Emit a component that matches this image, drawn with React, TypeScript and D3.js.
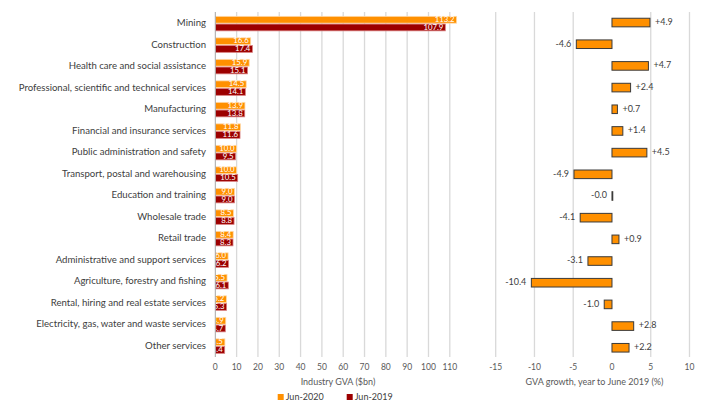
import React from "react";
import * as d3 from "d3";

const categories = [
  "Mining",
  "Construction",
  "Health care and social assistance",
  "Professional, scientific and technical services",
  "Manufacturing",
  "Financial and insurance services",
  "Public administration and safety",
  "Transport, postal and warehousing",
  "Education and training",
  "Wholesale trade",
  "Retail trade",
  "Administrative and support services",
  "Agriculture, forestry and fishing",
  "Rental, hiring and real estate services",
  "Electricity, gas, water and waste services",
  "Other services",
];
const gva2020 = [113.2, 16.6, 15.9, 14.5, 13.9, 11.8, 10.0, 10.0, 9.0, 8.5, 8.4, 6.0, 5.5, 5.2, 4.9, 4.5];
const gva2019 = [107.9, 17.4, 15.1, 14.1, 13.8, 11.6, 9.5, 10.5, 9.0, 8.8, 8.3, 6.2, 6.1, 5.3, 4.7, 4.4];
const growth = [4.9, -4.6, 4.7, 2.4, 0.7, 1.4, 4.5, -4.9, -0.0, -4.1, 0.9, -3.1, -10.4, -1.0, 2.8, 2.2];
const growthLabels = ["+4.9", "-4.6", "+4.7", "+2.4", "+0.7", "+1.4", "+4.5", "-4.9", "-0.0", "-4.1", "+0.9", "-3.1", "-10.4", "-1.0", "+2.8", "+2.2"];
const leftTicks = [0, 10, 20, 30, 40, 50, 60, 70, 80, 90, 100, 110];
const rightTicks = [-15, -10, -5, 0, 5, 10];
const seriesNames = ["Jun-2020", "Jun-2019"];

const ORANGE = "#FF9000";
const DARKRED = "#9C0000";
const FONT = "Lato, 'Open Sans', sans-serif";
const TEXT = "#404040";
const GRID = "#d9d9d9";

export default function App() {
  const W = 701, H = 403;
  const xL = d3.scaleLinear().domain([0, 110]).range([215.3, 449.8]);
  const yL = d3.scaleBand().domain(categories).range([13, 357]).padding(0);
  const xR = d3.scaleLinear().domain([-15, 10]).range([495.7, 689.5]);
  const yR = d3.scaleBand().domain(categories).range([11.7, 358.6]).padding(0);
  const gTop = 12, gBottom = 357;

  return (
    <svg width={W} height={H} style={{ position: "absolute", left: 0, top: 0, background: "#fff" }} fontFamily={FONT}>
      <defs>
        <clipPath id="leftClip">
          <rect x={xL(0)} y={0} width={W} height={H} />
        </clipPath>
      </defs>
      {leftTicks.filter((t) => t > 0).map((t) => (
        <line key={"lg" + t} x1={xL(t)} x2={xL(t)} y1={gTop} y2={gBottom} stroke={GRID} strokeWidth={1.3} />
      ))}
      <g clipPath="url(#leftClip)">
        {categories.map((c, i) => {
          const cy = (yL(c) as number) + yL.bandwidth() / 2;
          return (
            <g key={"lb" + i}>
              <rect x={xL(0)} y={cy - 7.4} width={xL(gva2020[i]) - xL(0)} height={6.8} fill={ORANGE} stroke="#ffd9a8" strokeWidth={0.8} />
              <rect x={xL(0)} y={cy + 0.3} width={xL(gva2019[i]) - xL(0)} height={6.8} fill={DARKRED} stroke="#d98080" strokeWidth={0.8} />
              <text x={xL(gva2020[i]) - 2} y={cy - 3.9} textAnchor="end" dominantBaseline="middle" fontSize={7.8} fill="#fff">
                {gva2020[i].toFixed(1)}
              </text>
              <text x={xL(gva2019[i]) - 2} y={cy + 3.9} textAnchor="end" dominantBaseline="middle" fontSize={7.8} fill="#fff">
                {gva2019[i].toFixed(1)}
              </text>
            </g>
          );
        })}
      </g>
      <line x1={xL(0)} x2={xL(0)} y1={gTop} y2={gBottom} stroke="#a6a6a6" strokeWidth={1} />
      {categories.map((c) => (
        <text key={"cl" + c} x={206} y={(yL(c) as number) + yL.bandwidth() / 2} textAnchor="end" dominantBaseline="middle" fontSize={9.6} fill={TEXT}>
          {c}
        </text>
      ))}
      {leftTicks.map((t) => (
        <text key={"lt" + t} x={xL(t)} y={368} textAnchor="middle" dominantBaseline="middle" fontSize={8.5} fill="#595959">
          {t}
        </text>
      ))}
      <text x={338} y={383} textAnchor="middle" dominantBaseline="middle" fontSize={9} fill="#595959">
        Industry GVA ($bn)
      </text>

      {rightTicks.filter((t) => t !== 0).map((t) => (
        <line key={"rg" + t} x1={xR(t)} x2={xR(t)} y1={gTop} y2={gBottom} stroke={GRID} strokeWidth={1.3} />
      ))}
      {categories.map((c, i) => {
        const cy = (yR(c) as number) + yR.bandwidth() / 2;
        const v = growth[i];
        const x0 = xR(Math.min(0, v));
        const w = Math.abs(xR(v) - xR(0));
        const pos = growthLabels[i].startsWith("+");
        return (
          <g key={"rb" + i}>
            <rect x={x0} y={cy - 4.3} width={Math.max(w, 0.8)} height={8.6} fill={ORANGE} stroke="#3a3a3a" strokeWidth={1} />
            <text
              x={pos ? xR(v) + 5 : xR(v) - 5}
              y={cy}
              textAnchor={pos ? "start" : "end"}
              dominantBaseline="middle"
              fontSize={9}
              fill={TEXT}
            >
              {growthLabels[i]}
            </text>
          </g>
        );
      })}
      {rightTicks.map((t) => (
        <text key={"rt" + t} x={xR(t)} y={368} textAnchor="middle" dominantBaseline="middle" fontSize={8.5} fill="#595959">
          {t}
        </text>
      ))}
      <text x={594.5} y={383} textAnchor="middle" dominantBaseline="middle" fontSize={9} fill="#595959">
        GVA growth, year to June 2019 (%)
      </text>

      {seriesNames.map((s, i) => {
        const lx = i === 0 ? 277.7 : 346.7;
        return (
          <g key={"lg" + s}>
            <rect x={lx} y={394} width={6} height={6} fill={i === 0 ? ORANGE : DARKRED} />
            <text x={lx + 8} y={397.5} dominantBaseline="middle" fontSize={9} fill={TEXT}>
              {s}
            </text>
          </g>
        );
      })}
    </svg>
  );
}
